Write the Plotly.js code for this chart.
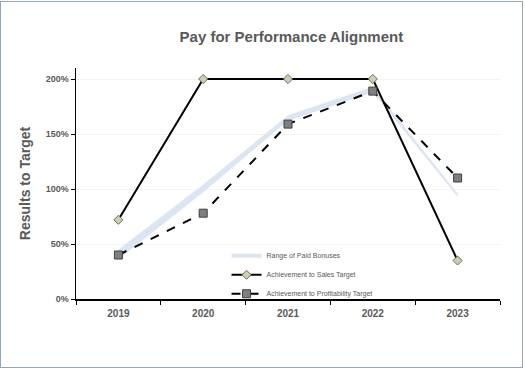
<!DOCTYPE html>
<html><head><meta charset="utf-8">
<script src="https://cdn.plot.ly/plotly-3.0.1.min.js"></script>
<style>
html,body{margin:0;padding:0;background:#fff;}
#wrap{position:relative;width:525px;height:372px;}
#chart{position:absolute;left:0;top:0;width:525px;height:372px;}
#frame{position:absolute;left:0;top:1px;width:521px;height:365px;border:1.5px solid #92A6C0;pointer-events:none;}
</style></head>
<body>
<div id="wrap"><div id="chart"></div><div id="frame"></div></div>
<script>
var years = ['2019','2020','2021','2022','2023'];
var bonusLow = [36, 97, 162, 188, 93];
var bonusHigh = [45, 104, 167, 193, 96];
var salesAch = [72, 200, 200, 200, 35];
var profitAch = [40, 78, 159, 189, 110];
var yTicks = [0, 50, 100, 150, 200];
var yTickText = ['0%', '50%', '100%', '150%', '200%'];

var grey = '#595959';
var traces = [
  {x: years, y: bonusLow, type: 'scatter', mode: 'lines', line: {width: 0, color: '#DCE6F2'}, showlegend: false, hoverinfo: 'skip'},
  {x: years, y: bonusHigh, type: 'scatter', mode: 'lines', fill: 'tonexty', fillcolor: '#DCE6F2', line: {width: 0, color: '#DCE6F2'}, showlegend: false, hoverinfo: 'skip'},
  {x: [null], y: [null], type: 'scatter', mode: 'lines', name: 'Range of Paid Bonuses', line: {width: 4, color: '#DCE6F2'}},
  {x: years, y: salesAch, type: 'scatter', mode: 'lines+markers', name: 'Achievement to Sales Target',
   line: {color: '#000000', width: 2},
   marker: {symbol: 'diamond', size: 7, color: '#CDCFB0', line: {color: '#6B6B5A', width: 1}}},
  {x: years, y: profitAch, type: 'scatter', mode: 'lines+markers', name: 'Achievement to Profitability Target',
   line: {color: '#000000', width: 2, dash: 'dash'},
   marker: {symbol: 'square', size: 8, color: '#7F7F7F', line: {color: '#404040', width: 1}}}
];

var layout = {
  width: 525, height: 372,
  margin: {l: 76, r: 25, t: 68, b: 73},
  paper_bgcolor: 'rgba(0,0,0,0)', plot_bgcolor: 'rgba(0,0,0,0)',
  font: {family: 'Liberation Sans, Arial, sans-serif', color: grey},
  title: {text: '<b>Pay for Performance Alignment</b>', font: {size: 15, color: grey}, x: 0.555, xanchor: 'center', y: 0.9, yanchor: 'middle'},
  xaxis: {
    type: 'category', range: [-0.5, 4.5],
    showline: true, linecolor: '#000', linewidth: 1.5,
    ticks: 'outside', ticklen: 4, tickcolor: '#000', tickson: 'boundaries',
    showgrid: false, zeroline: false, ticklabelstandoff: 4,
    tickfont: {size: 10, color: grey, weight: 'bold'}
  },
  yaxis: {
    range: [0, 210], tickvals: yTicks, ticktext: yTickText,
    showline: true, linecolor: '#000', linewidth: 1.5,
    ticks: 'outside', ticklen: 4, tickcolor: '#000',
    showgrid: true, gridcolor: '#F3F3F3', gridwidth: 1, zeroline: false,
    tickfont: {size: 9, color: grey, weight: 'bold'},
    title: {text: '<b>Results to Target</b>', font: {size: 14, color: grey}, standoff: 12}
  },
  legend: {x: 0.355, y: 0.25, xanchor: 'left', yanchor: 'top', bgcolor: 'rgba(0,0,0,0)',
    traceorder: 'normal', font: {size: 7, color: grey}, tracegroupgap: 0, itemwidth: 30},
  showlegend: true
};
Plotly.newPlot('chart', traces, layout, {displayModeBar: false, staticPlot: true});
</script>
</body></html>
